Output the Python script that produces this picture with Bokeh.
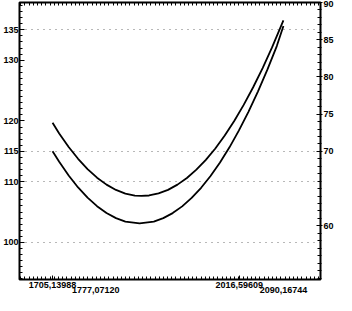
from bokeh.plotting import figure
from bokeh.models import (Range1d, LinearAxis, FixedTicker, CustomJSTickFormatter)
from bokeh.embed import file_html
from bokeh.resources import INLINE

# --- data ---
upper_x = [1705.14, 1716.2, 1732.0, 1747.7, 1763.5, 1779.3, 1795.1, 1810.9, 1826.6,
           1842.4, 1853.5, 1866.1, 1881.9, 1897.7, 1913.5, 1929.2, 1945.0, 1960.8,
           1976.6, 1992.3, 2008.1, 2023.9, 2039.7, 2055.5, 2071.2, 2090.17]
upper_y = [119.69, 117.95, 115.72, 113.77, 112.08, 110.66, 109.52, 108.64, 108.05,
           107.72, 107.66, 107.73, 108.08, 108.66, 109.52, 110.61, 111.98, 113.59,
           115.47, 117.61, 119.98, 122.64, 125.55, 128.70, 132.11, 136.56]
lower_x = [1705.14, 1716.2, 1732.0, 1747.7, 1763.5, 1779.3, 1795.1, 1810.9, 1826.6,
           1850.3, 1874.0, 1889.8, 1905.5, 1921.3, 1937.1, 1952.9, 1968.6, 1984.4,
           2000.2, 2016.0, 2031.8, 2047.6, 2063.4, 2079.1, 2090.17]
lower_y = [115.0, 113.27, 111.02, 109.05, 107.38, 105.97, 104.84, 104.0, 103.44,
           103.13, 103.44, 104.0, 104.83, 105.94, 107.33, 109.0, 110.94, 113.16,
           115.66, 118.44, 121.5, 124.83, 128.44, 132.33, 135.64]

x_ticks_row1 = [1705.13988, 2016.59609]
x_ticks_row2 = [1777.07120, 2090.16744]
x_minor = list(range(1652, 2152, 7))
left_ticks = [100, 110, 115, 120, 130, 135]
left_minor = list(range(94, 140))
grid_ticks = [100, 110, 115, 135]
right_ticks = [60, 70, 75, 80, 85, 90]
right_minor = list(range(53, 91))

FONT = "Liberation Sans"
FS = "9px"

p = figure(width=336, height=295, output_backend="svg", toolbar_location=None,
           x_range=Range1d(1650, 2152), y_range=Range1d(93.9, 139.5),
           min_border_left=0, min_border_right=0, min_border_top=2,
           min_border_bottom=0)
p.extra_y_ranges = {"r": Range1d(52.8, 90)}
p.background_fill_color = "white"
p.border_fill_color = "white"
p.outline_line_color = "black"
p.outline_line_width = 2

fmt = CustomJSTickFormatter(code="return tick.toFixed(5).replace('.', ',');")
blank = CustomJSTickFormatter(code="return '';")


def tick_axis(ax, ticker, tin, tout, minor_in, minor_out):
    """Axis that only draws tick marks, sitting against the frame."""
    ax.ticker = ticker
    ax.formatter = blank
    ax.axis_line_color = None
    ax.major_tick_line_color = "black"
    ax.minor_tick_line_color = "black"
    ax.major_tick_line_width = 1
    ax.minor_tick_line_width = 1
    ax.major_tick_in = tin
    ax.major_tick_out = tout
    ax.minor_tick_in = minor_in
    ax.minor_tick_out = minor_out
    ax.major_label_standoff = 0
    ax.major_label_text_font_size = "1px"


def label_axis(ax, ticker, formatter, standoff):
    """Axis that only draws tick labels."""
    ax.ticker = ticker
    if formatter is not None:
        ax.formatter = formatter
    ax.axis_line_color = None
    ax.major_tick_line_color = None
    ax.minor_tick_line_color = None
    ax.major_tick_in = 0
    ax.major_tick_out = 0
    ax.minor_tick_in = 0
    ax.minor_tick_out = 0
    ax.major_label_standoff = standoff
    ax.major_label_text_font = FONT
    ax.major_label_text_font_size = FS
    ax.major_label_text_font_style = "bold"
    ax.major_label_text_color = "black"


# bottom: ticks, then two staggered label rows
tick_axis(p.below[0], FixedTicker(ticks=x_ticks_row1, minor_ticks=x_minor), 4, 0, 3, 0)
xb1 = LinearAxis()
label_axis(xb1, FixedTicker(ticks=x_ticks_row1), fmt, 2)
p.add_layout(xb1, "below")
xb2 = LinearAxis()
label_axis(xb2, FixedTicker(ticks=x_ticks_row2), fmt, -4)
p.add_layout(xb2, "below")

# top: ticks only
xt = LinearAxis()
tick_axis(xt, FixedTicker(ticks=[], minor_ticks=x_minor), 4, 0, 3, 0)
p.add_layout(xt, "above")

# left: ticks, then labels
tick_axis(p.left[0], FixedTicker(ticks=left_ticks, minor_ticks=left_minor), 5, 0, 3, 0)
yl = LinearAxis()
label_axis(yl, FixedTicker(ticks=left_ticks), None, 1)
p.add_layout(yl, "left")

# right: ticks, then labels
yr_t = LinearAxis(y_range_name="r")
tick_axis(yr_t, FixedTicker(ticks=right_ticks, minor_ticks=right_minor), 4, 2, 3, 1)
p.add_layout(yr_t, "right")
yr_l = LinearAxis(y_range_name="r")
label_axis(yr_l, FixedTicker(ticks=right_ticks), None, 1)
p.add_layout(yr_l, "right")

# dotted guide lines
p.xgrid.visible = False
p.ygrid.ticker = FixedTicker(ticks=grid_ticks)
p.ygrid.grid_line_color = "#333333"
p.ygrid.grid_line_dash = "1 5"
p.ygrid.grid_line_width = 1
p.ygrid.grid_line_alpha = 0.7

# curves
p.line(upper_x, upper_y, line_color="black", line_width=1.8)
p.line(lower_x, lower_y, line_color="black", line_width=1.8)

open("out.html", "w").write(file_html(p, INLINE))
